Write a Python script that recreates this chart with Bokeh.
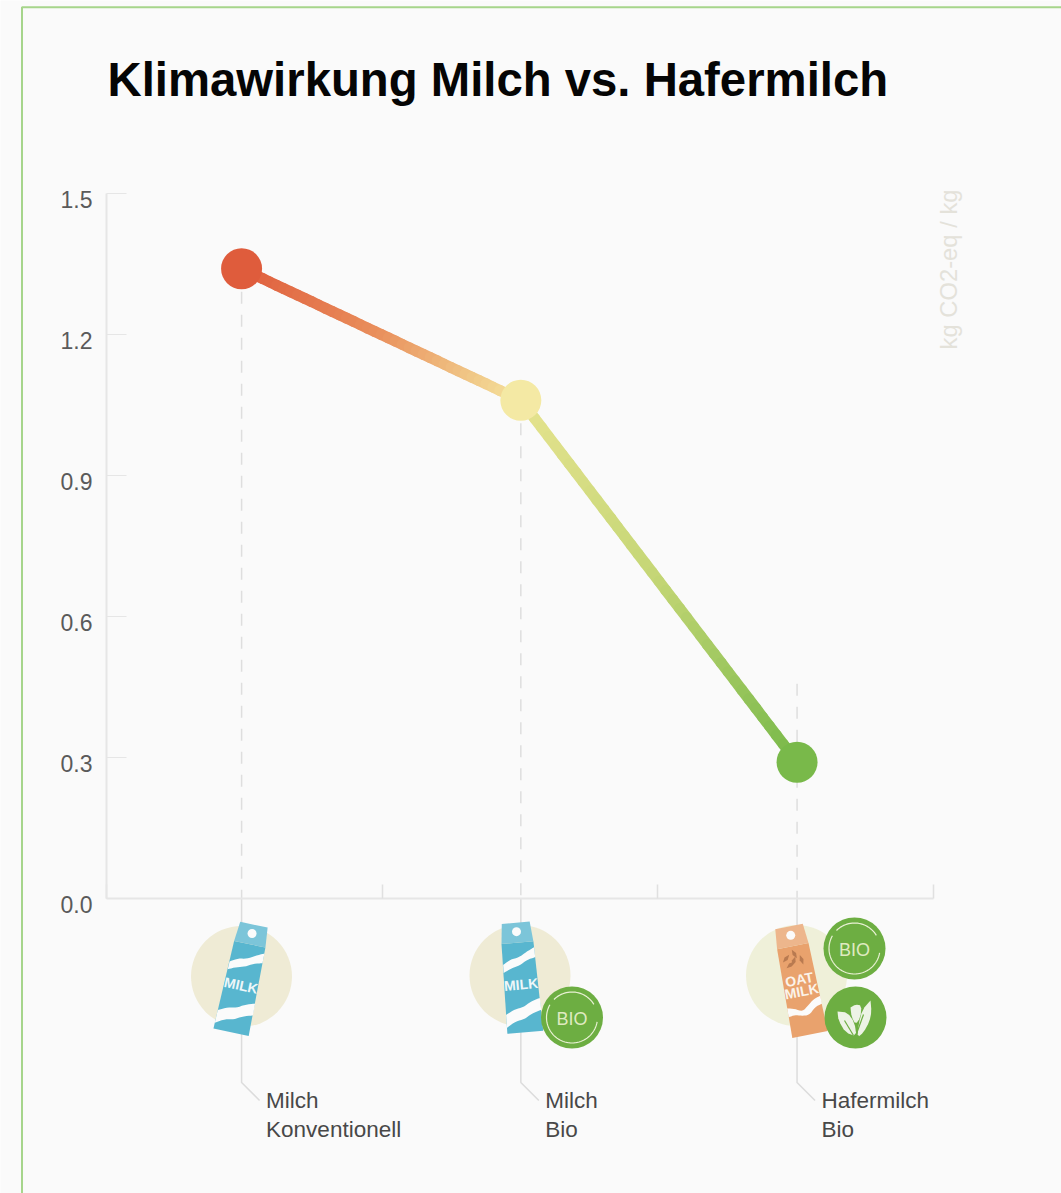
import math
import numpy as np
from bokeh.plotting import figure
from bokeh.embed import file_html
from bokeh.resources import INLINE
from bokeh.models import Range1d, FixedTicker, CustomJSTickFormatter
from bokeh.core.properties import value

# ---------- data ----------
title_text = "Klimawirkung Milch vs. Hafermilch"
categories = ["Milch\nKonventionell", "Milch\nBio", "Hafermilch\nBio"]
co2_values = [1.34, 1.06, 0.29]
point_colors = ["#df5c3c", "#f4e9a4", "#79b94a"]
dash_tops = [1.34, 1.06, 0.457]
y_tick_values = [0.0, 0.3, 0.6, 0.9, 1.2, 1.5]
y_tick_labels = ["0.0", "0.3", "0.6", "0.9", "1.2", "1.5"]
x_slots = [0.49, 1.503, 2.505]
x_tick_values = [0, 1, 2, 3]
unit_label = "kg CO2-eq / kg"

# ---------- geometry: the frame fills the page, axes sit inside it ----------
W, H = 1061, 1193
X0, Y0 = 106.0, 898.0          # page pixel of the data origin
SX, SY = 275.67, 470.0         # pixels per unit

def X(px):
    return (np.asarray(px, dtype=float) - X0) / SX

def Y(py):
    return (Y0 - np.asarray(py, dtype=float)) / SY

p = figure(width=W, height=H, output_backend="svg", toolbar_location=None,
           x_range=Range1d(float(X(0)), float(X(W))),
           y_range=Range1d(float(Y(H)), float(Y(0))),
           min_border=0, background_fill_color="#fafafa", border_fill_color="#fafafa",
           outline_line_color=None)
p.grid.visible = False

blank = CustomJSTickFormatter(code="return ''")
AXIS = "#e6e6e6"
xa = p.xaxis[0]
xa.fixed_location = 0
xa.bounds = (0, 3)
xa.ticker = FixedTicker(ticks=x_tick_values)
xa.formatter = blank
xa.major_tick_in, xa.major_tick_out = 14, 0
xa.minor_tick_line_color = None
xa.axis_line_color = AXIS
xa.axis_line_width = 2
xa.major_tick_line_color = "#e0e0e0"
xa.major_tick_line_width = 1.5

ya = p.yaxis[0]
ya.fixed_location = 0
ya.bounds = (0, 1.5)
ya.ticker = FixedTicker(ticks=y_tick_values)
ya.formatter = blank
ya.major_tick_in, ya.major_tick_out = 20, 0
ya.minor_tick_line_color = None
ya.axis_line_color = AXIS
ya.axis_line_width = 2
ya.major_tick_line_color = "#e6e6e6"
ya.major_tick_line_width = 1

# tick labels sit a little below their ticks in the reference
p.text(x=[0] * len(y_tick_values), y=y_tick_values, text=y_tick_labels, x_offset=-14, y_offset=5.5,
       text_font=value("Liberation Sans"), text_font_size="23px", text_color="#5a5a5a",
       text_align="right", text_baseline="middle")

# page frame
BORDER = "#a6d58b"
p.line(X([21.5, 21.5, 1061]), Y([1193, 6.8, 6.8]), line_color=BORDER, line_width=2)

# title
p.text(x=[float(X(107))], y=[float(Y(79))], text=[title_text],
       text_font=value("Liberation Sans"), text_font_style="bold",
       text_font_size="47.3px", text_color="#050505", text_baseline="alphabetic")

# unit
p.text(x=[float(X(947.7))], y=[float(Y(349))], text=[unit_label], angle=[math.pi / 2],
       text_font=value("Liberation Sans"), text_font_size="23.8px",
       text_color="#e4e2da", text_baseline="alphabetic", text_align="left")

# dashed drop lines, driven by the values
p.segment(x0=x_slots, y0=dash_tops, x1=x_slots, y1=[0, 0, 0],
          line_color="#dedede", line_width=1.5, line_dash="12 11")

# leader lines under the axis
lead_x, lead_y = [], []
for s in x_slots:
    sx = X0 + s * SX
    lead_x.append(list(X([sx, sx, sx + 18])))
    lead_y.append(list(Y([Y0, 1082, 1100])))
p.multi_line(lead_x, lead_y, line_color="#dcdcdc", line_width=1.5)

# category labels
p.text(x=x_slots, y=[0, 0, 0], text=categories, x_offset=24.5, y_offset=189.5,
       text_font=value("Liberation Sans"), text_font_size="22.5px", text_color="#484848",
       text_baseline="top", text_align="left", text_line_height=1.14)

# gradient line between the points
def hexrgb(h):
    return np.array([int(h[i:i + 2], 16) for i in (1, 3, 5)], dtype=float)

def ramp(stops, t):
    n = len(stops) - 1
    i = min(int(t * n), n - 1)
    f = t * n - i
    c = hexrgb(stops[i]) * (1 - f) + hexrgb(stops[i + 1]) * f
    return "#%02x%02x%02x" % tuple(int(round(v)) for v in c)

leg_stops = [["#df5c3c", "#e98f5c", "#f4e39c"], ["#e6e38f", "#c4d675", "#79b94a"]]
gx, gy, gc = [], [], []
N = 40
for k in range(2):
    for j in range(N):
        a, b = j / N, (j + 1) / N
        gx.append([x_slots[k] + (x_slots[k + 1] - x_slots[k]) * a,
                   x_slots[k] + (x_slots[k + 1] - x_slots[k]) * b])
        gy.append([co2_values[k] + (co2_values[k + 1] - co2_values[k]) * a,
                   co2_values[k] + (co2_values[k + 1] - co2_values[k]) * b])
        gc.append(ramp(leg_stops[k], (a + b) / 2))
p.multi_line(gx, gy, line_color=gc, line_width=11, line_cap="round")
p.scatter(x_slots, co2_values, marker="circle", size=41, fill_color=point_colors, line_color=None)

# ---------- pictograms ----------
def rot(pts, cx, cy, deg):
    t = math.radians(deg)
    c, s = math.cos(t), math.sin(t)
    xs = [cx + a * c - b * s for a, b in pts]
    ys = [cy + a * s + b * c for a, b in pts]
    return list(X(xs)), list(Y(ys))

def poly(pts, cx, cy, deg, color):
    xs, ys = rot(pts, cx, cy, deg)
    p.patch(xs, ys, fill_color=color, line_color=None)

def chaikin(pts, rounds=2):
    for _ in range(rounds):
        out = [pts[0]]
        for (a, b), (c, d) in zip(pts[:-1], pts[1:]):
            out.append((0.75 * a + 0.25 * c, 0.75 * b + 0.25 * d))
            out.append((0.25 * a + 0.75 * c, 0.25 * b + 0.75 * d))
        out.append(pts[-1])
        pts = out
    return pts

def band(upper, lower):
    return chaikin(upper) + chaikin(lower)

BODY_OUT = [(-16, -35), (16, -35), (18, 55), (-18, 55)]
TOP = [(-14, -55), (14, -55), (16, -35), (-16, -35)]
UP_BAND = band([(-16.2, -14), (-8, -19), (0, -20), (8, -25), (16.2, -29)],
               [(16.4, -19), (8, -17), (0, -12), (-8, -10), (-16.4, -6)])
LOW_BAND = band([(-17.6, 36), (-8, 31), (0, 30), (8, 25), (17.5, 22)],
                [(17.8, 34), (8, 37), (0, 42), (-8, 43), (-17.9, 49)])
OAT_WAVE = band([(-17.4, 25), (-10, 27), (-3, 31), (4, 26), (10, 21), (17.4, 19)],
                [(17.7, 27), (10, 29), (3, 36), (-5, 35), (-11, 33), (-17.6, 34)])

def carton(cx, cy, deg, main, top, bands):
    poly(BODY_OUT, cx, cy, deg, main)
    poly(TOP, cx, cy, deg, top)
    for b in bands:
        poly(b, cx, cy, deg, "#fbfbfb")
    xs, ys = rot([(0, -46)], cx, cy, deg)
    p.scatter(xs, ys, marker="circle", size=9, fill_color="#fbfbfb", line_color=None)

def carton_text(txt, cx, cy, deg, lx, ly, size, color="#eef7f9"):
    xs, ys = rot([(lx, ly)], cx, cy, deg)
    p.text(x=xs, y=ys, text=[txt], angle=[-math.radians(deg)],
           text_font=value("Liberation Sans"), text_font_style="bold",
           text_font_size=size, text_color=color, text_align="center", text_baseline="middle")

def ring(cx, cy, r, a0, a1, color="#e9f1d4", width=1.2):
    ang = np.radians(np.arange(a0, a1 + 1, 4))
    p.line(list(X(cx + r * np.cos(ang))), list(Y(cy + r * np.sin(ang))),
           line_color=color, line_width=width)

def bio_badge(cx, cy):
    p.scatter(list(X([cx])), list(Y([cy])), marker="circle", size=62,
              fill_color="#6dae42", line_color=None)
    ring(cx, cy, 25.5, 10, 210)
    ring(cx, cy, 25.5, 225, 330)
    p.text(x=list(X([cx])), y=list(Y([cy + 1])), text=["BIO"],
           text_font=value("Liberation Sans"), text_font_size="18px",
           text_color="#dfeac0", text_align="center", text_baseline="middle")

BEIGE = "#efebd5"
circle_x = [241.0, 519.5, 796.0]
p.scatter(list(X(circle_x)), list(Y([976, 975, 975])), marker="circle", size=101,
          fill_color=[BEIGE, BEIGE, "#eff0d9"], line_color=None)

carton(242, 978, 12, "#58b6cf", "#7cc5d9", [UP_BAND, LOW_BAND])
carton_text("MILK", 242, 978, 12, 0, 7, "14px")

carton(520, 977, -5, "#58b6cf", "#7cc5d9", [UP_BAND, LOW_BAND])
carton_text("MILK", 520, 977, -5, 0, 7, "14px")
bio_badge(571.5, 1017)

carton(799, 980, -11, "#e9a26d", "#edb68c", [OAT_WAVE])
carton_text("OAT", 799, 980, -11, 0, -1, "14px", "#fbf3ea")
carton_text("MILK", 799, 980, -11, 0, 11, "14px", "#fbf3ea")
for dx, dy, d in [(-9, -24, 50), (0, -27, -20), (-6, -17, 60), (6, -20, -10), (-2, -20, 30)]:
    leaf = [(0, -5), (2, 0), (0, 5), (-2, 0)]
    t = math.radians(d)
    pts = [(dx + a * math.cos(t) - b * math.sin(t), dy + a * math.sin(t) + b * math.cos(t)) for a, b in leaf]
    xs, ys = rot(pts, 799, 980, -11)
    p.patch(xs, ys, fill_color="#b97a50", line_color=None)

bio_badge(854, 948)
p.scatter(list(X([855])), list(Y([1017])), marker="circle", size=62,
          fill_color="#6dae42", line_color=None)
LEAF_M = chaikin([(-5, -10), (0, -13), (6, -12), (5, 0), (0, 7), (-4, -1), (-5, -10)], 1)
LEAF_L = chaikin([(-18, -6), (-8, -5), (-1, 5), (1, 19), (-10, 15), (-17, 3), (-18, -6)], 1)
LEAF_R = chaikin([(15, -17), (16, -6), (14, 4), (8, 15), (2, 20), (3, 7), (7, -8), (15, -17)], 1)
for leaf in (LEAF_M, LEAF_L, LEAF_R):
    poly(leaf, 855, 1017, 0, "#edf3e6")
for vein in ([(0, 19), (8, -3)], [(-2, 18), (-11, 3)]):
    xs, ys = rot(vein, 855, 1017, 0)
    p.line(xs, ys, line_color="#6dae42", line_width=1.2)

open("out.html", "w").write(file_html(p, INLINE))
